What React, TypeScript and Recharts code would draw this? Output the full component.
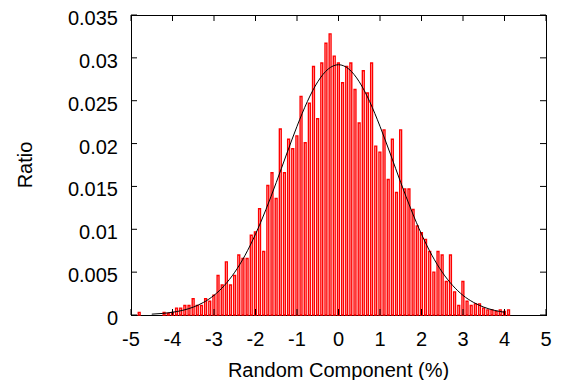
import React from 'react';
import { ComposedChart, Bar, Line, XAxis, YAxis, ReferenceArea } from 'recharts';

// histogram bins (centre of each 0.1 wide bin)
const binCenters = [
  -4.9, -4.8, -4.7, -4.6, -4.5, -4.4, -4.3, -4.2, -4.1, -4.0,
  -3.9, -3.8, -3.7, -3.6, -3.5, -3.4, -3.3, -3.2, -3.1, -3.0,
  -2.9, -2.8, -2.7, -2.6, -2.5, -2.4, -2.3, -2.2, -2.1, -2.0,
  -1.9, -1.8, -1.7, -1.6, -1.5, -1.4, -1.3, -1.2, -1.1, -1.0,
  -0.9, -0.8, -0.7, -0.6, -0.5, -0.4, -0.3, -0.2, -0.1, 0.0,
  0.1, 0.2, 0.3, 0.4, 0.5, 0.6, 0.7, 0.8, 0.9, 1.0,
  1.1, 1.2, 1.3, 1.4, 1.5, 1.6, 1.7, 1.8, 1.9, 2.0,
  2.1, 2.2, 2.3, 2.4, 2.5, 2.6, 2.7, 2.8, 2.9, 3.0,
  3.1, 3.2, 3.3, 3.4, 3.5, 3.6, 3.7, 3.8, 3.9, 4.0,
  4.1,
];

const ratios = [
  0, 0.0003, 0, 0, 0, 0, 0, 0.0003, 0.0002, 0.0003,
  0.0008, 0.0008, 0.0011, 0.0011, 0.0019, 0.0011, 0.0011, 0.0019, 0.0016, 0.0023,
  0.0046, 0.0035, 0.0062, 0.0035, 0.0046, 0.007, 0.0066, 0.0066, 0.0093, 0.0097,
  0.0124, 0.0074, 0.0151, 0.0166, 0.0136, 0.0217, 0.0166, 0.0205, 0.0194, 0.0209,
  0.0255, 0.0201, 0.0247, 0.029, 0.0229, 0.0294, 0.0317, 0.0328, 0.0302, 0.0294,
  0.0271, 0.029, 0.0294, 0.0263, 0.0224, 0.0285, 0.0259, 0.0294, 0.0197, 0.019,
  0.0216, 0.0158, 0.0205, 0.0143, 0.0216, 0.0147, 0.0147, 0.0123, 0.0104, 0.0096,
  0.0088, 0.0074, 0.005, 0.0074, 0.007, 0.0039, 0.007, 0.0027, 0.0011, 0.0039,
  0.0016, 0.0011, 0.0013, 0.0013, 0.0008, 0.0006, 0.0006, 0.0004, 0.0006, 0.0004,
  0.0006,
];

// fitted curve
const fitX = [
  -4.5, -4.25, -4.0, -3.75, -3.5, -3.25, -3.0, -2.75, -2.5, -2.25, -2.0, -1.75,
  -1.5, -1.25, -1.0, -0.75, -0.5, -0.25, 0, 0.25, 0.5, 0.75, 1.0, 1.25,
  1.5, 1.75, 2.0, 2.25, 2.5, 2.75, 3.0, 3.25, 3.5, 3.75, 4.0,
];
const fitY = [
  0.0001, 0.00018, 0.00032, 0.00055, 0.00092, 0.00148, 0.00229, 0.00345, 0.00499, 0.00698, 0.00943, 0.01229,
  0.01546, 0.01878, 0.02201, 0.02491, 0.02721, 0.02869, 0.0292, 0.02869, 0.02721, 0.02491, 0.02201, 0.01878,
  0.01546, 0.01229, 0.00943, 0.00698, 0.00499, 0.00345, 0.00229, 0.00148, 0.00092, 0.00055, 0.00032,
];

const xTicks = [-5, -4, -3, -2, -1, 0, 1, 2, 3, 4, 5];
const yTicks = [0, 0.005, 0.01, 0.015, 0.02, 0.025, 0.03, 0.035];

const W = 564;
const H = 380;
const PLOT_LEFT = 131;
const PLOT_RIGHT = 546;
const PLOT_TOP = 15;
const PLOT_BOTTOM = 315;
const TICK = 6;
const FONT = '"Liberation Sans", Arial, sans-serif';
const FS = 20;

const histRows = binCenters.map((x, i) => ({ x, ratio: ratios[i] }));
const fitRows = fitX.map((x, i) => ({ x, fit: fitY[i] }));

const XTick = (props: any) => {
  const { x, payload } = props;
  return (
    <g>
      <line x1={x} x2={x} y1={PLOT_BOTTOM} y2={PLOT_BOTTOM - TICK} stroke="#000" />
      <line x1={x} x2={x} y1={PLOT_TOP} y2={PLOT_TOP + TICK} stroke="#000" />
      <text x={x} y={PLOT_BOTTOM + 31} textAnchor="middle" fontFamily={FONT} fontSize={FS} fill="#000">
        {payload.value}
      </text>
    </g>
  );
};

const YTick = (props: any) => {
  const { y, payload } = props;
  return (
    <g>
      <line x1={PLOT_LEFT} x2={PLOT_LEFT + TICK} y1={y} y2={y} stroke="#000" />
      <line x1={PLOT_RIGHT} x2={PLOT_RIGHT - TICK} y1={y} y2={y} stroke="#000" />
      <text x={PLOT_LEFT - 13} y={y + 10} textAnchor="end" fontFamily={FONT} fontSize={FS} fill="#000">
        {String(payload.value)}
      </text>
    </g>
  );
};

const RatioLabel = (props: any) => {
  const { viewBox } = props;
  const cx = 25;
  const cy = viewBox.y + viewBox.height / 2;
  return (
    <text
      x={cx}
      y={cy}
      transform={`rotate(-90 ${cx} ${cy})`}
      textAnchor="middle"
      dominantBaseline="central"
      fontFamily={FONT}
      fontSize={FS}
      fill="#000"
    >
      Ratio
    </text>
  );
};

const XTitle = (props: any) => {
  const { viewBox } = props;
  return (
    <text
      x={viewBox.x + viewBox.width / 2}
      y={H - 3}
      textAnchor="middle"
      fontFamily={FONT}
      fontSize={FS}
      fill="#000"
    >
      Random Component (%)
    </text>
  );
};

export default function App() {
  return (
    <div style={{ position: 'absolute', left: 0, top: 0, width: W, height: H, background: '#fff' }}>
      <ComposedChart
        width={W}
        height={H}
        data={histRows}
        margin={{ top: PLOT_TOP, right: W - PLOT_RIGHT, bottom: 0, left: 0 }}
      >
        <XAxis
          dataKey="x"
          type="number"
          domain={[-5, 5]}
          ticks={xTicks}
          height={H - PLOT_BOTTOM}
          axisLine={false}
          tickLine={false}
          tick={<XTick />}
          interval={0}
          label={<XTitle />}
        />
        <YAxis
          type="number"
          domain={[0, 0.035]}
          ticks={yTicks}
          width={PLOT_LEFT}
          axisLine={false}
          tickLine={false}
          tick={<YTick />}
          interval={0}
          label={<RatioLabel />}
        />
        <Bar
          dataKey="ratio"
          barSize={4.15}
          fill="#fff"
          stroke="#ff0000"
          strokeWidth={1.4}
          isAnimationActive={false}
        />
        <Line
          data={fitRows}
          dataKey="fit"
          type="monotone"
          stroke="#000"
          strokeWidth={1}
          dot={false}
          activeDot={false}
          isAnimationActive={false}
        />
        <ReferenceArea
          x1={-5}
          x2={5}
          y1={0}
          y2={0.035}
          fill="none"
          stroke="#000"
          strokeWidth={1}
          shapeRendering="crispEdges"
        />
      </ComposedChart>
    </div>
  );
}
